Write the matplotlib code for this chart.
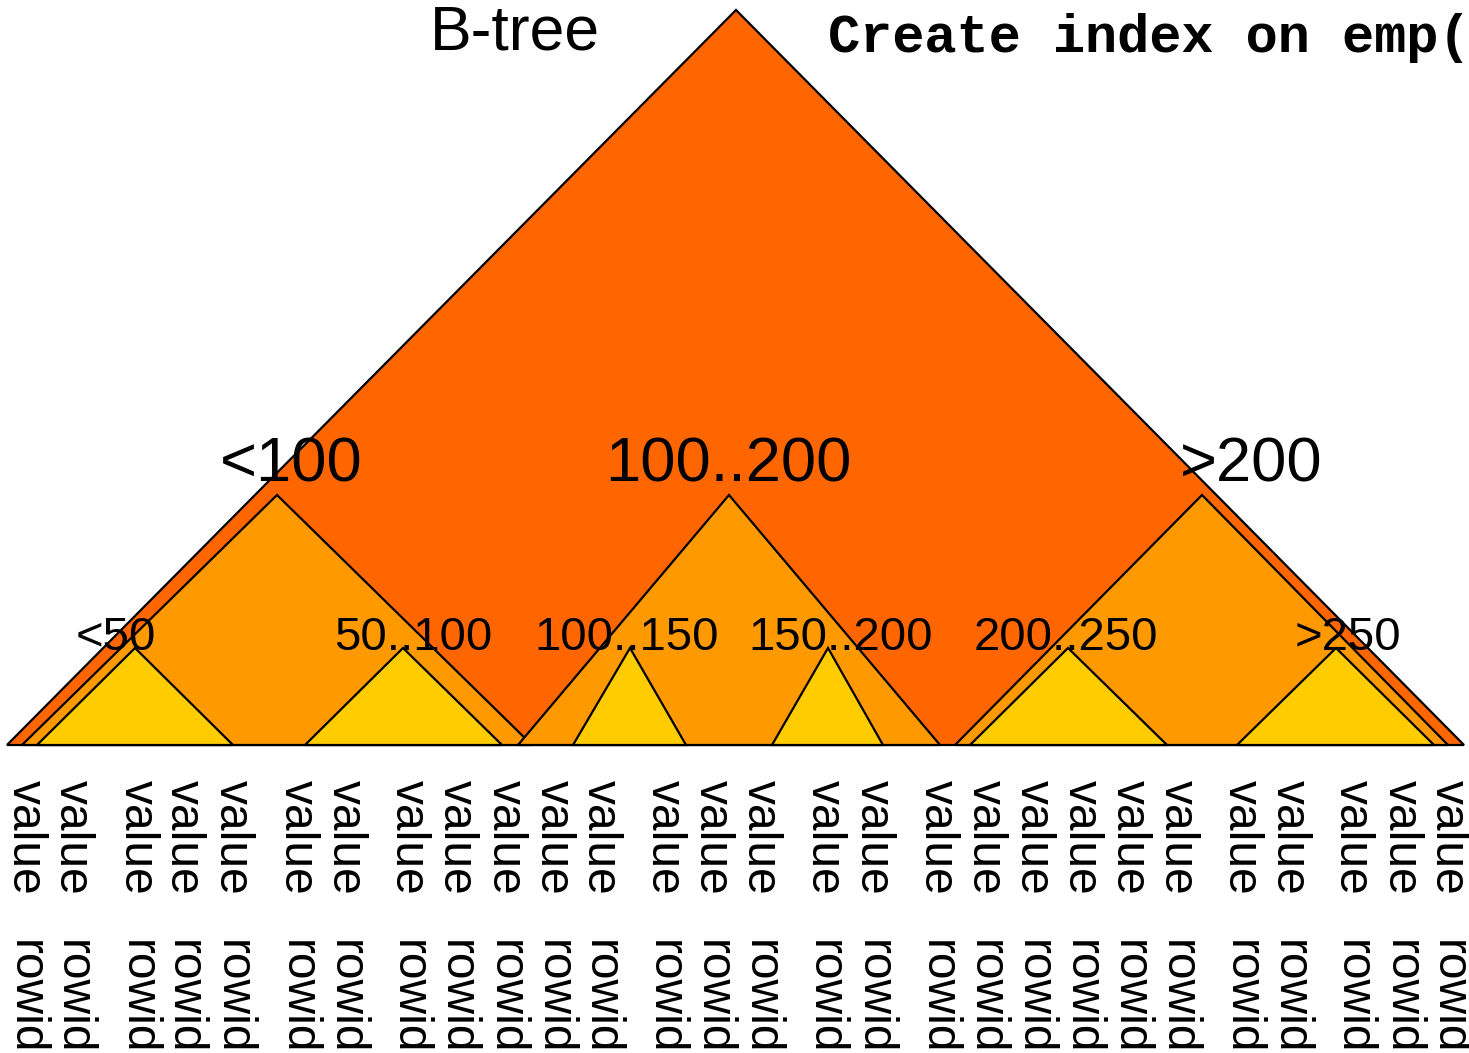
import matplotlib.pyplot as plt
from matplotlib.patches import Polygon

# labels of the tree
title = 'B-tree'
sql_text = 'Create index on emp('
level1_labels = ['<100', '100..200', '>200']
level2_labels = ['<50', '50..100', '100..150', '150..200', '200..250', '>250']
leaf_top = 'value'
leaf_bottom = 'rowid'
n_leaves = 28

# layout in pixel units of the 1469x1053 picture
W, H = 1469, 1053
base_y = 745
root = (736, 10, 7, 1464)  # apex x, apex y, base left, base right
level1 = [(277, 495, 22, 532), (729, 495, 518, 940), (1202, 495, 955, 1448)]
level2 = [(135, 648, 37, 233), (403, 648, 305, 502), (630, 648, 573, 686),
          (828, 648, 772, 883), (1068, 648, 970, 1167), (1336, 648, 1237, 1434)]
level1_text_x = [291, 728, 1251]
level2_text_x = [116, 413, 627, 841, 1066, 1348]
leaf_x = [25, 72, 137, 183, 232, 297, 345, 408, 456, 505, 553, 600, 664, 712,
          760, 824, 873, 937, 985, 1033, 1081, 1129, 1177, 1241, 1289, 1352, 1401, 1448]

colors = ['#FF6600', '#FF9900', '#FFCC00']

fig = plt.figure(figsize=(W / 100, H / 100), dpi=100)
ax = fig.add_axes([0, 0, 1, 1])
ax.set_xlim(0, W)
ax.set_ylim(H, 0)
ax.axis('off')


def triangle(t, color):
    ax_, ay, bl, br = t
    ax.add_patch(Polygon([(ax_, ay), (bl, base_y), (br, base_y)], closed=True,
                         facecolor=color, edgecolor='black', linewidth=1.6,
                         joinstyle='miter'))


triangle(root, colors[0])
# left and right subtrees first, middle one lies on top of them
for i in [0, 2, 1]:
    triangle(level1[i], colors[1])
for t in level2:
    triangle(t, colors[2])

sans = 'Liberation Sans'
ax.text(515, 50, title, fontsize=45, family=sans, ha='center', va='baseline')
ax.text(828, 52, sql_text, fontsize=38.6, family='Liberation Mono', weight='bold',
        ha='left', va='baseline', clip_on=False)

for x, lab in zip(level1_text_x, level1_labels):
    ax.text(x, 482, lab, fontsize=45.5, family=sans, ha='center', va='baseline')
for x, lab in zip(level2_text_x, level2_labels):
    ax.text(x, 650, lab, fontsize=34, family=sans, ha='center', va='baseline')

for x in leaf_x[:n_leaves]:
    ax.text(x, 780, leaf_top, fontsize=34.5, family=sans, rotation=270,
            ha='center', va='top')
    ax.text(x, 940, leaf_bottom, fontsize=34.5, family=sans, rotation=270,
            ha='center', va='top')

plt.savefig('out.png', dpi=100)
